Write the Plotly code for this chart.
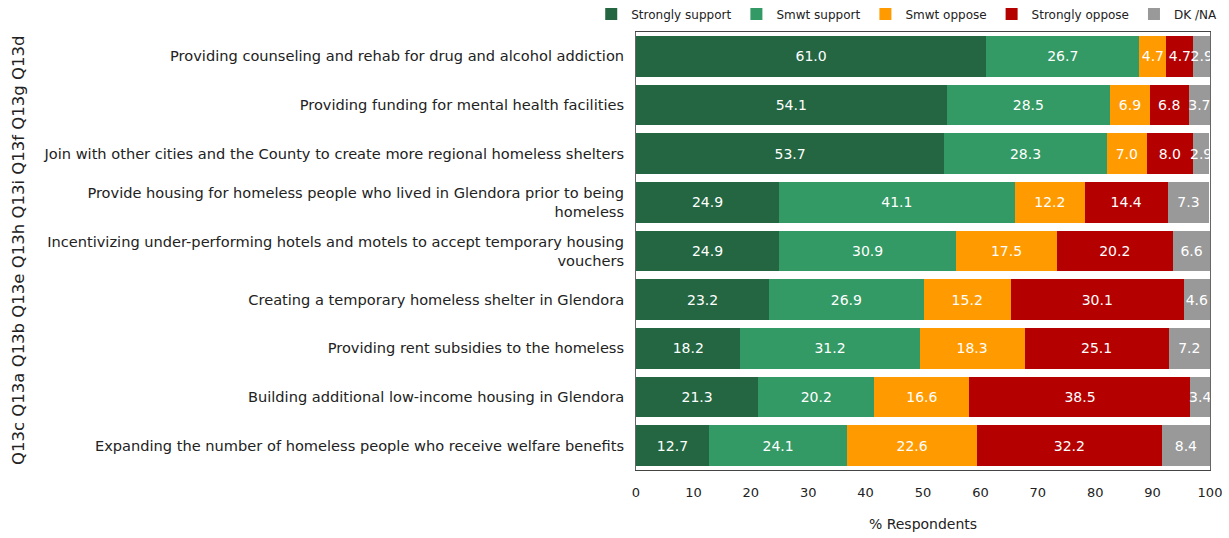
import plotly.graph_objects as go

codes = ["Q13d", "Q13g", "Q13f", "Q13i", "Q13h", "Q13e", "Q13b", "Q13a", "Q13c"]
items = [
    "Providing counseling and rehab for drug and alcohol addiction",
    "Providing funding for mental health facilities",
    "Join with other cities and the County to create more regional homeless shelters",
    "Provide housing for homeless people who lived in Glendora prior to being<br>homeless",
    "Incentivizing under-performing hotels and motels to accept temporary housing<br>vouchers",
    "Creating a temporary homeless shelter in Glendora",
    "Providing rent subsidies to the homeless",
    "Building additional low-income housing in Glendora",
    "Expanding the number of homeless people who receive welfare benefits",
]
strongly_support = [61.0, 54.1, 53.7, 24.9, 24.9, 23.2, 18.2, 21.3, 12.7]
smwt_support = [26.7, 28.5, 28.3, 41.1, 30.9, 26.9, 31.2, 20.2, 24.1]
smwt_oppose = [4.7, 6.9, 7.0, 12.2, 17.5, 15.2, 18.3, 16.6, 22.6]
strongly_oppose = [4.7, 6.8, 8.0, 14.4, 20.2, 30.1, 25.1, 38.5, 32.2]
dk_na = [2.9, 3.7, 2.9, 7.3, 6.6, 4.6, 7.2, 3.4, 8.4]

series = [
    ("Strongly support", strongly_support, "#236641"),
    ("Smwt support", smwt_support, "#339965"),
    ("Smwt oppose", smwt_oppose, "#FF9B00"),
    ("Strongly oppose", strongly_oppose, "#B50000"),
    ("DK /NA", dk_na, "#999999"),
]

FONT = "DejaVu Sans"
fig = go.Figure()
for name, vals, color in series:
    fig.add_trace(go.Bar(
        name=name, y=items, x=vals, orientation="h",
        marker=dict(color=color, line=dict(width=0)),
        text=[f"{v:.1f}" for v in vals],
        textposition="inside", insidetextanchor="middle", textangle=0,
        insidetextfont=dict(color="white", size=14, family=FONT),
        hoverinfo="skip",
    ))

# question codes running up the left edge, bottom row first
fig.add_annotation(
    x=0, xref="paper", xshift=-618, xanchor="center", y=0.5, yref="paper",
    text=" ".join(reversed(codes)), textangle=-90, showarrow=False,
    font=dict(size=16.5, family=FONT, color="#222"),
)

fig.update_layout(
    width=1229, height=538,
    barmode="stack", bargap=0.16,
    uniformtext=dict(minsize=14, mode="show"),
    plot_bgcolor="white", paper_bgcolor="white",
    margin=dict(l=636, r=19, t=32, b=68, autoexpand=False),
    font=dict(family=FONT, size=13, color="#222"),
    legend=dict(
        orientation="h", x=-0.078, xanchor="left", y=1.041, yanchor="middle",
        font=dict(size=12, family=FONT), itemwidth=30, traceorder="normal",
        bgcolor="rgba(0,0,0,0)",
    ),
    xaxis=dict(
        range=[0, 100], dtick=10, showgrid=False, zeroline=False,
        showline=True, linecolor="#444", linewidth=1, mirror=True,
        ticks="", tickfont=dict(size=13, family=FONT), ticklabelstandoff=10,
        title=dict(text="% Respondents", font=dict(size=14, family=FONT), standoff=20),
    ),
    yaxis=dict(
        autorange="reversed", showgrid=False, showline=True, linecolor="#666",
        mirror=True, ticks="", tickfont=dict(size=14.6, family=FONT, color="#222"),
        ticklabelstandoff=8,
    ),
)

fig.write_html("out.html")
